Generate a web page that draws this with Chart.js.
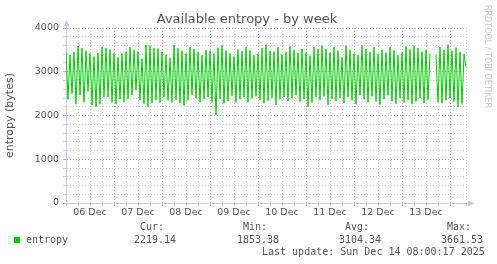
<!DOCTYPE html>
<html>
<head>
<meta charset="utf-8">
<title>Available entropy - by week</title>
<script src="https://cdn.jsdelivr.net/npm/chart.js@4/dist/chart.umd.min.js"></script>
<style>
  body { margin: 0; background: #fff; }
  #wrap { position: relative; width: 497px; height: 264px; overflow: hidden;
          font-family: "DejaVu Sans", sans-serif; color: #555; }
  .t { position: absolute; white-space: pre; }
  .mono { font-family: "DejaVu Sans Mono", monospace; font-size: 10px; line-height: 12px; color: #555; }
</style>
</head>
<body>
<div id="wrap">
  <canvas id="chart" width="497" height="264"></canvas>
  <div class="t" id="title" style="left:0;top:11px;width:494px;text-align:center;font-size:13px;line-height:15px;color:#555;"></div>
  <div class="t" id="wm" style="left:482px;top:5px;writing-mode:vertical-rl;font-size:8px;line-height:10px;color:#c8c8c8;">RRDTOOL / TOBI OETIKER</div>
  <div id="legend"></div>
</div>
<script>
// munin style weekly graph: entropy_avail, one point per hour starting 06 Dec 00:00
const chartTitle = 'Available entropy - by week';
const yTitle = 'entropy (bytes)';
const dayLabels = ['06 Dec', '07 Dec', '08 Dec', '09 Dec', '10 Dec', '11 Dec', '12 Dec', '13 Dec'];

// hourly values, one row per day (null = no data)
const entropy = [
  3460, 2370, 3380, 2500, 3450, 2260, 3590, 2470, 3540, 2300, 3480, 2550, 3420, 2240, 3350, 2200, 3430, 2260, 3570, 2420, 3540, 2420, 3510, 2300,
  3420, 2260, 3330, 2380, 3420, 2300, 3460, 2380, 3560, 2470, 3500, 2580, 3460, 2350, 3300, 2270, 3610, 2200, 3600, 2280, 3540, 2350, 3530, 2300,
  3450, 2420, 3380, 2350, 3310, 2300, 3610, 2360, 3540, 2280, 3480, 2230, 3420, 2350, 3560, 2470, 3520, 2400, 3450, 2300, 3380, 2380, 3500, 2420,
  3480, 2300, 3420, 2010, 3550, 2380, 3600, 2280, 3480, 2330, 3420, 2450, 3350, 2300, 3510, 2370, 3470, 2420, 3560, 2300, 3490, 2390, 3380, 2440,
  3420, 2350, 3540, 2280, 3620, 2340, 3480, 2400, 3460, 2250, 3560, 2370, 3390, 2420, 3450, 2330, 3580, 2400, 3500, 2460, 3430, 2320, 3520, 2380,
  3440, 2200, 3370, 2300, 3560, 2420, 3510, 2350, 3600, 2440, 3520, 2250, 3440, 2380, 3560, 2330, 3480, 2400, 3330, 2290, 3600, 2430, 3500, 2350,
  3420, 2260, 3380, 2460, 3600, 2370, 3520, 2300, 3450, 2440, 3560, 2320, 3400, 2250, 3500, 2380, 3440, 2460, 3560, 2330, 3490, 2270, 3380, 2400,
  3440, 2300, 3580, 2350, 3510, 2260, 3600, 2320, 3540, 2400, 3460, 2280, 3500, 2360, 3420, null, null, 3380, 2300, 3560, 2280, 3500, 2350, 3620,
  2400, 3480, 2320, 3550, 2200, 3450, 2270, 3400, 3100
];

const statNames = ['Cur:', 'Min:', 'Avg:', 'Max:'];
const statValues = ['2219.14', '1853.38', '3104.34', '3661.53'];
const seriesName = 'entropy';
const lastUpdate = 'Last update: Sun Dec 14 08:00:17 2025';

const GREEN = '#00cc00';
const MINOR = 'rgba(150,150,150,0.45)';
const MAJOR = 'rgba(225,110,110,0.65)';
const AXIS = '#c4c6ec';

// ---- text around the graph
document.getElementById('title').textContent = chartTitle;
(function buildLegend() {
  const lg = document.getElementById('legend');
  const colName = [140, 243, 345, 447];
  const colVal = [134, 237, 339, 441];
  statNames.forEach((s, i) => {
    const d = document.createElement('div');
    d.className = 't mono'; d.style.left = colName[i] + 'px'; d.style.top = '221px';
    d.textContent = s; lg.appendChild(d);
    const v = document.createElement('div');
    v.className = 't mono'; v.style.left = colVal[i] + 'px'; v.style.top = '234px';
    v.textContent = statValues[i]; lg.appendChild(v);
  });
  const sq = document.createElement('div');
  sq.className = 't'; sq.style.cssText += 'left:14px;top:237px;width:6px;height:6px;background:' + GREEN;
  lg.appendChild(sq);
  const nm = document.createElement('div');
  nm.className = 't mono'; nm.style.left = '26px'; nm.style.top = '234px';
  nm.textContent = seriesName; lg.appendChild(nm);
  const lu = document.createElement('div');
  lu.className = 't mono'; lu.style.left = '262px'; lu.style.top = '246px';
  lu.textContent = lastUpdate; lg.appendChild(lu);
})();

// axis arrows like rrdtool draws them
const arrows = {
  id: 'arrows',
  afterDraw(chart) {
    const { ctx, chartArea: a } = chart;
    ctx.save();
    ctx.strokeStyle = AXIS; ctx.fillStyle = AXIS; ctx.lineWidth = 1;
    ctx.beginPath();
    ctx.moveTo(a.left + 0.5, a.top); ctx.lineTo(a.left + 0.5, a.top - 4);
    ctx.moveTo(a.right, a.bottom + 0.5); ctx.lineTo(a.right + 4, a.bottom + 0.5);
    ctx.stroke();
    ctx.beginPath();
    ctx.moveTo(a.left - 2.5, a.top - 2); ctx.lineTo(a.left + 3.5, a.top - 2); ctx.lineTo(a.left + 0.5, a.top - 8);
    ctx.closePath(); ctx.fill();
    ctx.beginPath();
    ctx.moveTo(a.right + 2, a.bottom - 2.5); ctx.lineTo(a.right + 2, a.bottom + 3.5); ctx.lineTo(a.right + 8, a.bottom + 0.5);
    ctx.closePath(); ctx.fill();
    ctx.restore();
  }
};

const points = entropy.map((v, i) => ({ x: i, y: v }));
const tickFont = { family: 'DejaVu Sans', size: 9.5 };

new Chart(document.getElementById('chart'), {
  type: 'line',
  data: {
    datasets: [{
      label: seriesName, data: points,
      borderColor: GREEN, borderWidth: 1, pointRadius: 0, tension: 0, spanGaps: false
    }]
  },
  options: {
    responsive: false, animation: false,
    layout: { padding: { top: 28, right: 31, left: 0, bottom: 0 } },
    plugins: { legend: { display: false }, tooltip: { enabled: false } },
    scales: {
      x: {
        type: 'linear', min: 0, max: 200,
        afterFit: s => { s.height = 61; },
        ticks: {
          stepSize: 6, autoSkip: false, maxRotation: 0, padding: 1,
          color: '#555', font: tickFont,
          callback: v => (v % 24 === 12 ? dayLabels[Math.floor(v / 24)] : '')
        },
        grid: {
          color: c => (c.tick && c.tick.value % 24 === 0 ? MAJOR : MINOR),
          tickColor: c => (c.tick && c.tick.value % 24 === 0 ? MAJOR : MINOR),
          tickLength: 3, lineWidth: 1
        },
        border: { color: AXIS, width: 1, dash: [1, 2] }
      },
      y: {
        min: 0, max: 4000,
        afterFit: s => { s.width = 66; },
        title: { display: true, text: yTitle, color: '#555', font: { family: 'DejaVu Sans', size: 11 }, padding: { top: 4, bottom: 0 } },
        ticks: {
          stepSize: 200, autoSkip: false, padding: 4, color: '#555', font: tickFont,
          callback: v => (v % 1000 === 0 ? String(v) : '')
        },
        grid: {
          color: c => (c.tick && c.tick.value % 1000 === 0 ? MAJOR : MINOR),
          tickColor: c => (c.tick && c.tick.value % 1000 === 0 ? MAJOR : MINOR),
          tickLength: 3, lineWidth: 1
        },
        border: { color: AXIS, width: 1, dash: [1, 2] }
      }
    }
  },
  plugins: [arrows]
});
</script>
</body>
</html>
